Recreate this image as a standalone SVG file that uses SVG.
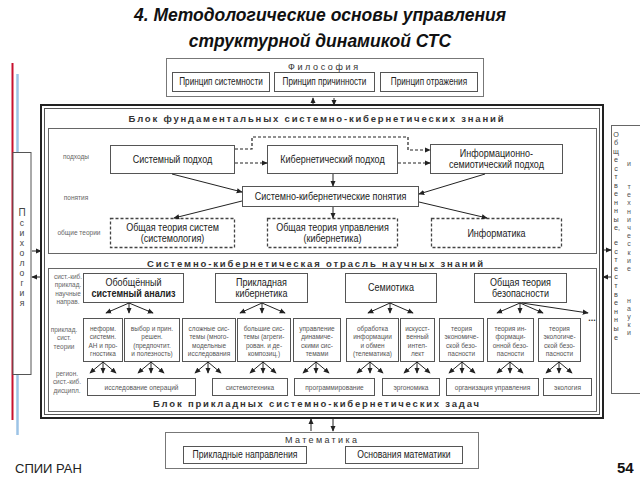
<svg xmlns="http://www.w3.org/2000/svg" width="640" height="480" viewBox="0 0 640 480">
<defs>
<marker id="ah" viewBox="0 0 8 8" refX="7" refY="4" markerWidth="6" markerHeight="6" orient="auto" markerUnits="userSpaceOnUse">
<path d="M0,0.5 L8,4 L0,7.5 z" fill="#222"/>
</marker>
<style>
text{font-family:"Liberation Sans",Arial,sans-serif;}
.title{font-size:17.5px;font-weight:bold;font-style:italic;fill:#111;text-anchor:middle;}
.box{fill:#fff;stroke:#555;stroke-width:1;}
.dbox{fill:#fff;stroke:#444;stroke-width:1.3;stroke-dasharray:3 2;}
.frame{fill:#fff;stroke:#777;stroke-width:1;}
.t1{font-size:11px;fill:#222;text-anchor:middle;}
.t0{font-size:10.5px;fill:#222;text-anchor:middle;}
.t2{font-size:8px;fill:#555;text-anchor:middle;}
.t3{font-size:7.2px;fill:#555;text-anchor:middle;}
.lbl{font-size:8px;fill:#666;text-anchor:middle;}
.lb2{font-size:7.2px;fill:#666;text-anchor:middle;}
.hdr{font-size:9.5px;font-weight:bold;fill:#333;text-anchor:middle;}
.vt{font-size:7.2px;fill:#444;text-anchor:middle;}
.ln{fill:none;stroke:#222;stroke-width:1;}
.dl{fill:none;stroke:#222;stroke-width:1.2;stroke-dasharray:3 2;}
</style>
</defs>
<rect width="640" height="480" fill="#fff"/>

<text class="title" x="320" y="21">4. Методологические основы управления</text>
<text class="title" x="320" y="47">структурной динамикой СТС</text>

<line x1="12.5" y1="63" x2="12.5" y2="420" stroke="#c8102e" stroke-width="2"/>
<line x1="17.5" y1="74" x2="17.5" y2="435" stroke="#9cc3e6" stroke-width="2.5"/>

<g id="psychology">
<rect x="13" y="152.5" width="18" height="222" fill="#fff" stroke="#555"/>
<text class="vt" x="22" y="216" style="font-size:8.6px"><tspan x="22" style="font-size:10px">П</tspan><tspan x="22" dy="10">с</tspan><tspan x="22" dy="10">и</tspan><tspan x="22" dy="10">х</tspan><tspan x="22" dy="10">о</tspan><tspan x="22" dy="10">л</tspan><tspan x="22" dy="10">о</tspan><tspan x="22" dy="10">г</tspan><tspan x="22" dy="10">и</tspan><tspan x="22" dy="10">я</tspan></text>
</g>

<g id="philosophy">
<rect class="frame" x="166.5" y="58.5" width="317" height="38"/>
<text class="hdr" x="323" y="69.5" textLength="70" lengthAdjust="spacing" style="font-weight:normal;font-size:9px">Философия</text>
<rect class="box" x="172.5" y="72.5" width="97" height="19"/>
<text class="t0" x="221" y="85.5" style="font-size:10px" transform="matrix(.82 0 0 1 39.78 0)">Принцип системности</text>
<rect class="box" x="274.5" y="72.5" width="100" height="19"/>
<text class="t0" x="324.5" y="85.5" style="font-size:10px" transform="matrix(.82 0 0 1 58.41 0)">Принцип причинности</text>
<rect class="box" x="380.5" y="72.5" width="97" height="19"/>
<text class="t0" x="429" y="85.5" style="font-size:10px" transform="matrix(.82 0 0 1 77.22 0)">Принцип отражения</text>
</g>

<g id="social-sciences">
<rect x="611.5" y="125.5" width="40" height="268" fill="#fff" stroke="#666"/>
<text class="vt" x="616" y="137"><tspan x="616">О</tspan><tspan x="616" dy="8.45">б</tspan><tspan x="616" dy="8.45">щ</tspan><tspan x="616" dy="8.45">е</tspan><tspan x="616" dy="8.45">с</tspan><tspan x="616" dy="8.45">т</tspan><tspan x="616" dy="8.45">в</tspan><tspan x="616" dy="8.45">е</tspan><tspan x="616" dy="8.45">н</tspan><tspan x="616" dy="8.45">н</tspan><tspan x="616" dy="8.45">ы</tspan><tspan x="617" dy="8.45">е,</tspan><tspan x="616" dy="15">е</tspan><tspan x="616" dy="8.6">с</tspan><tspan x="616" dy="8.6">т</tspan><tspan x="616" dy="8.6">е</tspan><tspan x="616" dy="8.6">с</tspan><tspan x="616" dy="8.6">т</tspan><tspan x="616" dy="8.6">в</tspan><tspan x="616" dy="8.6">е</tspan><tspan x="616" dy="8.6">н</tspan><tspan x="616" dy="8.6">н</tspan><tspan x="616" dy="8.6">ы</tspan><tspan x="616" dy="8.6">е</tspan></text>
<text class="vt" x="629" y="166" style="fill:#555;font-size:7px"><tspan x="629">и</tspan><tspan x="629" dy="23">т</tspan><tspan x="629" dy="8.2">е</tspan><tspan x="629" dy="8.2">х</tspan><tspan x="629" dy="8.2">н</tspan><tspan x="629" dy="8.2">и</tspan><tspan x="629" dy="8.2">ч</tspan><tspan x="629" dy="8.2">е</tspan><tspan x="629" dy="8.2">с</tspan><tspan x="629" dy="8.2">к</tspan><tspan x="629" dy="8.2">и</tspan><tspan x="629" dy="8.2">е</tspan><tspan x="629" dy="32">н</tspan><tspan x="629" dy="8.1">а</tspan><tspan x="629" dy="8.1">у</tspan><tspan x="629" dy="8.1">к</tspan><tspan x="629" dy="8.1">и</tspan></text>
</g>

<g id="mathematics">
<rect class="frame" x="165.5" y="432.5" width="313" height="36"/>
<text class="hdr" x="321" y="443" textLength="72" lengthAdjust="spacing" style="font-weight:normal;font-size:9px">Математика</text>
<rect class="box" x="183.5" y="446.5" width="123" height="17"/>
<text class="t0" x="245" y="458.5" transform="matrix(.82 0 0 1 44.1 0)">Прикладные направления</text>
<rect class="box" x="345.5" y="446.5" width="117" height="17"/>
<text class="t0" x="404" y="458.5" transform="matrix(.82 0 0 1 72.72 0)">Основания математики</text>
</g>

<g id="main-frame">
<rect x="41" y="105" width="562" height="313" fill="#fff" stroke="#222" stroke-width="2"/>
<rect x="44.5" y="108.5" width="555" height="306" fill="none" stroke="#555" stroke-width="1"/>
<text class="hdr" x="316" y="121.5" textLength="375" lengthAdjust="spacing">Блок фундаментальных системно-кибернетических знаний</text>
<rect x="48.5" y="128.5" width="548" height="125" fill="none" stroke="#666"/>
<text class="hdr" x="315" y="266.5" textLength="336" lengthAdjust="spacing">Системно-кибернетическая отрасль научных знаний</text>
<rect x="48.5" y="268.5" width="548" height="143" fill="none" stroke="#666"/>
<text class="hdr" x="316" y="406.5" textLength="326" lengthAdjust="spacing">Блок прикладных системно-кибернетических задач</text>
</g>

<g id="row-labels">
<text class="lbl" x="76" y="159" transform="matrix(.82 0 0 1 13.68 0)">подходы</text>
<text class="lbl" x="76" y="200" transform="matrix(.82 0 0 1 13.68 0)">понятия</text>
<text class="lbl" x="79" y="235" transform="matrix(.82 0 0 1 14.22 0)">общие теории</text>
<text class="lb2" x="68" y="279" transform="matrix(.9 0 0 1 6.8 0)"><tspan x="68">сист.-киб.</tspan><tspan x="68" dy="8.3">приклад.</tspan><tspan x="68" dy="8.3">научные</tspan><tspan x="68" dy="8.3">направ.</tspan></text>
<text class="lb2" x="64" y="332" transform="matrix(.9 0 0 1 6.4 0)"><tspan x="64">приклад.</tspan><tspan x="64" dy="8.3">сист.</tspan><tspan x="64" dy="8.3">теории</tspan></text>
<text class="lb2" x="67" y="376" transform="matrix(.9 0 0 1 6.7 0)"><tspan x="67">регион.</tspan><tspan x="67" dy="8.5">сист.-киб.</tspan><tspan x="67" dy="8.5">дисципл.</tspan></text>
</g>

<g id="system-approach"><rect class="box" x="110.5" y="145.5" width="124" height="28"/><text class="t1" x="172.5" y="163" transform="matrix(.82 0 0 1 31.05 0)">Системный подход</text></g>
<g id="cyber-approach"><rect class="box" x="267.5" y="145.5" width="130" height="28"/><text class="t1" x="332.5" y="163" transform="matrix(.82 0 0 1 59.85 0)">Кибернетический подход</text></g>
<g id="info-approach"><rect class="box" x="430.5" y="144.5" width="132" height="29"/><text class="t1" x="496.5" y="157" transform="matrix(.82 0 0 1 89.37 0)">Информационно-</text><text class="t1" x="496.5" y="168" transform="matrix(.82 0 0 1 89.37 0)">семиотический подход</text></g>
<g id="concepts"><rect class="box" x="242.5" y="186.5" width="176" height="20"/><text class="t1" x="330.5" y="200" transform="matrix(.82 0 0 1 59.49 0)">Системно-кибернетические понятия</text></g>
<g id="gst"><rect class="dbox" x="110.5" y="218.5" width="124" height="29"/><text class="t1" x="172.5" y="231" transform="matrix(.82 0 0 1 31.05 0)">Общая теория систем</text><text class="t1" x="172.5" y="242" transform="matrix(.82 0 0 1 31.05 0)">(системология)</text></g>
<g id="gtc"><rect class="dbox" x="267.5" y="218.5" width="130" height="29"/><text class="t1" x="332.5" y="231" transform="matrix(.82 0 0 1 59.85 0)">Общая теория управления</text><text class="t1" x="332.5" y="242" transform="matrix(.82 0 0 1 59.85 0)">(кибернетика)</text></g>
<g id="informatics"><rect class="dbox" x="431.5" y="218.5" width="130" height="29"/><text class="t1" x="496.5" y="237" transform="matrix(.82 0 0 1 89.37 0)">Информатика</text></g>

<g id="gsa"><rect class="box" x="83.5" y="273.5" width="100" height="29"/><text class="t1" x="133.5" y="286" transform="matrix(.82 0 0 1 24.03 0)">Обобщённый</text><text class="t1" x="133.5" y="297" style="font-weight:bold" transform="matrix(.82 0 0 1 24.03 0)">системный анализ</text></g>
<g id="applied-cyber"><rect class="box" x="215.5" y="273.5" width="92" height="29"/><text class="t1" x="261.5" y="286" transform="matrix(.82 0 0 1 47.07 0)">Прикладная</text><text class="t1" x="261.5" y="297" transform="matrix(.82 0 0 1 47.07 0)">кибернетика</text></g>
<g id="semiotics"><rect class="box" x="345.5" y="273.5" width="91" height="29"/><text class="t1" x="391" y="291" transform="matrix(.82 0 0 1 70.38 0)">Семиотика</text></g>
<g id="security"><rect class="box" x="474.5" y="273.5" width="92" height="29"/><text class="t1" x="520.5" y="286" transform="matrix(.82 0 0 1 93.69 0)">Общая теория</text><text class="t1" x="520.5" y="297" transform="matrix(.82 0 0 1 93.69 0)">безопасности</text></g>

<g id="th1"><rect class="box" x="83.5" y="318.5" width="39" height="43"/><text class="t3" x="103" y="331" transform="matrix(.9 0 0 1 10.3 0)"><tspan x="103">неформ.</tspan><tspan x="103" dy="8.3">системн.</tspan><tspan x="103" dy="8.3">АН и про-</tspan><tspan x="103" dy="8.3">гностика</tspan></text></g>
<g id="th2"><rect class="box" x="124.5" y="318.5" width="55" height="43"/><text class="t3" x="152" y="331" transform="matrix(.9 0 0 1 15.2 0)"><tspan x="152">выбор и прин.</tspan><tspan x="152" dy="8.3">решен.</tspan><tspan x="152" dy="8.3">(предпочтит.</tspan><tspan x="152" dy="8.3">и полезность)</tspan></text></g>
<g id="th3"><rect class="box" x="182.5" y="318.5" width="53" height="43"/><text class="t3" x="209" y="331" transform="matrix(.9 0 0 1 20.9 0)"><tspan x="209">сложные сис-</tspan><tspan x="209" dy="8.3">темы (много-</tspan><tspan x="209" dy="8.3">модельные</tspan><tspan x="209" dy="8.3">исследования</tspan></text></g>
<g id="th4"><rect class="box" x="237.5" y="318.5" width="53" height="43"/><text class="t3" x="264" y="331" transform="matrix(.9 0 0 1 26.4 0)"><tspan x="264">большие сис-</tspan><tspan x="264" dy="8.3">темы (агреги-</tspan><tspan x="264" dy="8.3">рован. и де-</tspan><tspan x="264" dy="8.3">композиц.)</tspan></text></g>
<g id="th5"><rect class="box" x="293.5" y="318.5" width="47" height="43"/><text class="t3" x="317" y="331" transform="matrix(.9 0 0 1 31.7 0)"><tspan x="317">управление</tspan><tspan x="317" dy="8.3">динамиче-</tspan><tspan x="317" dy="8.3">скими сис-</tspan><tspan x="317" dy="8.3">темами</tspan></text></g>
<g id="th6"><rect class="box" x="346.5" y="318.5" width="52" height="43"/><text class="t3" x="372.5" y="331" transform="matrix(.9 0 0 1 37.25 0)"><tspan x="372.5">обработка</tspan><tspan x="372.5" dy="8.3">информации</tspan><tspan x="372.5" dy="8.3">и обмен</tspan><tspan x="372.5" dy="8.3">(телематика)</tspan></text></g>
<g id="th7"><rect class="box" x="400.5" y="318.5" width="34" height="43"/><text class="t3" x="417.5" y="331" transform="matrix(.9 0 0 1 41.75 0)"><tspan x="417.5">искусст-</tspan><tspan x="417.5" dy="8.3">венный</tspan><tspan x="417.5" dy="8.3">интел-</tspan><tspan x="417.5" dy="8.3">лект</tspan></text></g>
<g id="th8"><rect class="box" x="439.5" y="318.5" width="44" height="43"/><text class="t3" x="461.5" y="331" transform="matrix(.9 0 0 1 46.15 0)"><tspan x="461.5">теория</tspan><tspan x="461.5" dy="8.3">экономиче-</tspan><tspan x="461.5" dy="8.3">ской безо-</tspan><tspan x="461.5" dy="8.3">пасности</tspan></text></g>
<g id="th9"><rect class="box" x="487.5" y="318.5" width="46" height="43"/><text class="t3" x="510.5" y="331" transform="matrix(.9 0 0 1 51.05 0)"><tspan x="510.5">теория ин-</tspan><tspan x="510.5" dy="8.3">формаци-</tspan><tspan x="510.5" dy="8.3">онной безо-</tspan><tspan x="510.5" dy="8.3">пасности</tspan></text></g>
<g id="th10"><rect class="box" x="538.5" y="318.5" width="42" height="43"/><text class="t3" x="559.5" y="331" transform="matrix(.9 0 0 1 55.95 0)"><tspan x="559.5">теория</tspan><tspan x="559.5" dy="8.3">экологиче-</tspan><tspan x="559.5" dy="8.3">ской безо-</tspan><tspan x="559.5" dy="8.3">пасности</tspan></text></g>

<g id="d1"><rect class="box" x="87.5" y="378.5" width="108" height="17"/><text class="t2" x="141.5" y="390" transform="matrix(.82 0 0 1 25.47 0)">исследование операций</text></g>
<g id="d2"><rect class="box" x="212.5" y="378.5" width="75" height="17"/><text class="t2" x="250" y="390" transform="matrix(.82 0 0 1 45 0)">системотехника</text></g>
<g id="d3"><rect class="box" x="294.5" y="378.5" width="80" height="17"/><text class="t2" x="334.5" y="390" transform="matrix(.82 0 0 1 60.21 0)">программирование</text></g>
<g id="d4"><rect class="box" x="382.5" y="378.5" width="57" height="17"/><text class="t2" x="411" y="390" transform="matrix(.82 0 0 1 73.98 0)">эргономика</text></g>
<g id="d5"><rect class="box" x="446.5" y="378.5" width="92" height="17"/><text class="t2" x="492.5" y="390" transform="matrix(.82 0 0 1 88.65 0)">организация управления</text></g>
<g id="d6"><rect class="box" x="543.5" y="378.5" width="48" height="17"/><text class="t2" x="567.5" y="390" transform="matrix(.82 0 0 1 102.15 0)">экология</text></g>

<text x="592" y="321" style="font-size:9px;fill:#333;text-anchor:middle;font-weight:bold">...</text>

<text x="15" y="473" style="font-size:13px;fill:#222">СПИИ РАН</text>
<text x="617" y="473" style="font-size:15px;font-weight:bold;fill:#111">54</text>

<g id="connectors">
<path class="ln" d="M313,105 V98" marker-end="url(#ah)"/>
<path class="ln" d="M334,98 V105" marker-end="url(#ah)"/>
<path class="ln" d="M311,431 V419" marker-end="url(#ah)"/>
<path class="ln" d="M333,418 V431" marker-end="url(#ah)"/>
<path class="ln" d="M32,251 H41" marker-end="url(#ah)"/>
<path class="ln" d="M41,277 H32" marker-end="url(#ah)"/>
<path class="ln" d="M603,250 H611" marker-end="url(#ah)"/>
<path class="ln" d="M611,277 H603" marker-end="url(#ah)"/>
<path class="dl" d="M235,149 H252 V137 H408 V150 H430" marker-end="url(#ah)"/>
<path class="dl" d="M235,163 H267" marker-end="url(#ah)"/>
<path class="dl" d="M398,163 H430" marker-end="url(#ah)"/>
<path class="ln" d="M172,174 L242,192" marker-end="url(#ah)"/>
<path class="ln" d="M333,174 V186" marker-end="url(#ah)"/>
<path class="ln" d="M485,174 L419,194" marker-end="url(#ah)"/>
<path class="ln" d="M419,202 L487,218" marker-end="url(#ah)"/>
<path class="ln" d="M242,201 L174,218" marker-end="url(#ah)"/>
<path class="ln" d="M333,207 V218" marker-end="url(#ah)"/>
<path class="ln" d="M129,303 L106,313" marker-end="url(#ah)"/>
<path class="ln" d="M129,303 V313" marker-end="url(#ah)"/>
<path class="ln" d="M129,303 L153,313" marker-end="url(#ah)"/>
<path class="ln" d="M262,303 L240,313" marker-end="url(#ah)"/>
<path class="ln" d="M262,303 V313" marker-end="url(#ah)"/>
<path class="ln" d="M262,303 L285,313" marker-end="url(#ah)"/>
<path class="ln" d="M390,303 L368,313" marker-end="url(#ah)"/>
<path class="ln" d="M390,303 V313" marker-end="url(#ah)"/>
<path class="ln" d="M390,303 L413,313" marker-end="url(#ah)"/>
<path class="ln" d="M520,303 L497,313" marker-end="url(#ah)"/>
<path class="ln" d="M520,303 V313" marker-end="url(#ah)"/>
<path class="ln" d="M520,303 L543,313" marker-end="url(#ah)"/>
<path class="ln" d="M522,303 L588,313" marker-end="url(#ah)"/>
<path class="ln" d="M103,362 L90,373" marker-end="url(#ah)"/><path class="ln" d="M103,362 V373" marker-end="url(#ah)"/><path class="ln" d="M103,362 L116,373" marker-end="url(#ah)"/>
<path class="ln" d="M151,362 L138,373" marker-end="url(#ah)"/><path class="ln" d="M151,362 V373" marker-end="url(#ah)"/><path class="ln" d="M151,362 L164,373" marker-end="url(#ah)"/>
<path class="ln" d="M208,362 L195,373" marker-end="url(#ah)"/><path class="ln" d="M208,362 V373" marker-end="url(#ah)"/><path class="ln" d="M208,362 L221,373" marker-end="url(#ah)"/>
<path class="ln" d="M263,362 L250,373" marker-end="url(#ah)"/><path class="ln" d="M263,362 V373" marker-end="url(#ah)"/><path class="ln" d="M263,362 L276,373" marker-end="url(#ah)"/>
<path class="ln" d="M316,362 L303,373" marker-end="url(#ah)"/><path class="ln" d="M316,362 V373" marker-end="url(#ah)"/><path class="ln" d="M316,362 L329,373" marker-end="url(#ah)"/>
<path class="ln" d="M370,362 L357,373" marker-end="url(#ah)"/><path class="ln" d="M370,362 V373" marker-end="url(#ah)"/><path class="ln" d="M370,362 L383,373" marker-end="url(#ah)"/>
<path class="ln" d="M417,362 L404,373" marker-end="url(#ah)"/><path class="ln" d="M417,362 V373" marker-end="url(#ah)"/><path class="ln" d="M417,362 L430,373" marker-end="url(#ah)"/>
<path class="ln" d="M462,362 L449,373" marker-end="url(#ah)"/><path class="ln" d="M462,362 V373" marker-end="url(#ah)"/><path class="ln" d="M462,362 L475,373" marker-end="url(#ah)"/>
<path class="ln" d="M510,362 L497,373" marker-end="url(#ah)"/><path class="ln" d="M510,362 V373" marker-end="url(#ah)"/><path class="ln" d="M510,362 L523,373" marker-end="url(#ah)"/>
<path class="ln" d="M559,362 L546,373" marker-end="url(#ah)"/><path class="ln" d="M559,362 V373" marker-end="url(#ah)"/><path class="ln" d="M559,362 L572,373" marker-end="url(#ah)"/>
</g>
</svg>
